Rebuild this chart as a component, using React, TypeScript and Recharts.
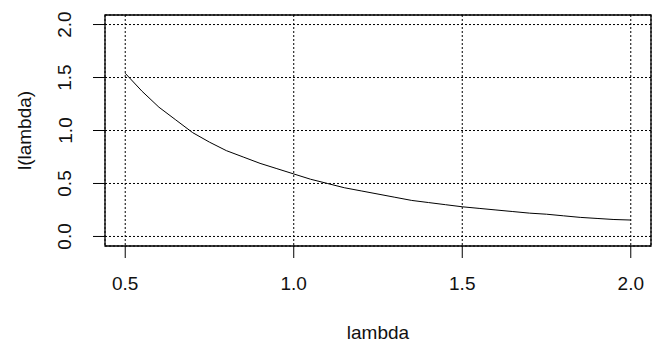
import React from 'react';
import { LineChart, Line, XAxis, YAxis, CartesianGrid, ReferenceArea } from 'recharts';

// lambda grid and the value of l(lambda)
const lambdaValues = [
  0.5, 0.55, 0.6, 0.65, 0.7, 0.75, 0.8, 0.85, 0.9, 0.95, 1.0,
  1.05, 1.1, 1.15, 1.2, 1.25, 1.3, 1.35, 1.4, 1.45, 1.5,
  1.55, 1.6, 1.65, 1.7, 1.75, 1.8, 1.85, 1.9, 1.95, 2.0,
];
const lValues = [
  1.54, 1.37, 1.22, 1.1, 0.98, 0.89, 0.81, 0.75, 0.69, 0.64, 0.59,
  0.54, 0.5, 0.46, 0.43, 0.4, 0.37, 0.34, 0.32, 0.3, 0.28,
  0.265, 0.25, 0.235, 0.22, 0.21, 0.195, 0.18, 0.17, 0.16, 0.155,
];
const xTicks = [0.5, 1.0, 1.5, 2.0];
const yTicks = [0, 0.5, 1.0, 1.5, 2.0];

const data = lambdaValues.map((lambda, i) => ({ lambda, l: lValues[i] }));

const FONT = '"Liberation Sans", Arial, sans-serif';
const X_DOMAIN: [number, number] = [0.44, 2.06];
const Y_DOMAIN: [number, number] = [-0.09, 2.09];

const YTick = (props: any) => {
  const { x, y, payload } = props;
  const cx = x - 26;
  return (
    <text
      x={cx}
      y={y}
      transform={`rotate(-90 ${cx} ${y})`}
      textAnchor="middle"
      dominantBaseline="central"
      fontSize={19}
      fontFamily={FONT}
      fill="#111"
    >
      {Number(payload.value).toFixed(1)}
    </text>
  );
};

const YLabel = (props: any) => {
  const vb = props.viewBox;
  const cx = vb.x + 24;
  const cy = vb.y + vb.height / 2;
  return (
    <text
      x={cx}
      y={cy}
      transform={`rotate(-90 ${cx} ${cy})`}
      textAnchor="middle"
      dominantBaseline="central"
      fontSize={19}
      fontFamily={FONT}
      fill="#111"
    >
      l(lambda)
    </text>
  );
};

const XLabel = (props: any) => {
  const vb = props.viewBox;
  return (
    <text
      x={vb.x + vb.width / 2}
      y={339}
      textAnchor="middle"
      fontSize={19}
      fontFamily={FONT}
      fill="#111"
    >
      lambda
    </text>
  );
};

export default function App() {
  return (
    <div style={{ position: 'absolute', left: 0, top: 0, width: 652, height: 343, background: '#fff' }}>
      <LineChart width={652} height={343} data={data} margin={{ top: 15, right: 1, bottom: 0, left: 0 }}>
        <CartesianGrid stroke="#000" strokeDasharray="2 2" strokeWidth={1} />
        <XAxis
          dataKey="lambda"
          type="number"
          domain={X_DOMAIN}
          allowDataOverflow
          ticks={xTicks}
          tickFormatter={(v: number) => v.toFixed(1)}
          axisLine={false}
          tickLine={{ stroke: '#000' }}
          tickSize={12}
          tickMargin={19}
          height={97}
          tick={{ fontSize: 19, fontFamily: FONT, fill: '#111' }}
          label={<XLabel />}
        />
        <YAxis
          type="number"
          domain={Y_DOMAIN}
          allowDataOverflow
          ticks={yTicks}
          axisLine={false}
          tickLine={{ stroke: '#000' }}
          tickSize={12}
          width={105}
          tick={<YTick />}
          label={<YLabel />}
        />
        <ReferenceArea
          x1={X_DOMAIN[0]}
          x2={X_DOMAIN[1]}
          y1={Y_DOMAIN[0]}
          y2={Y_DOMAIN[1]}
          fill="none"
          stroke="#000"
          strokeWidth={1.3}
          ifOverflow="visible"
        />
        <Line
          type="linear"
          dataKey="l"
          stroke="#000"
          strokeWidth={1}
          dot={false}
          isAnimationActive={false}
        />
      </LineChart>
    </div>
  );
}
